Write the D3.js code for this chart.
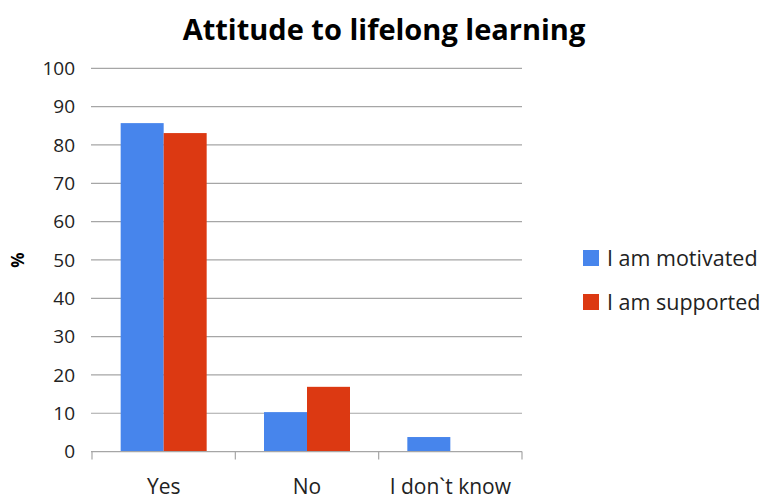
<!DOCTYPE html>
<html><head><meta charset="utf-8">
<script src="https://cdn.jsdelivr.net/npm/d3@7"></script>
<style>body{margin:0;background:#fff;}svg{display:block;font-family:"Open Sans",sans-serif;}</style>
</head><body><svg id="c" width="763" height="500"></svg>
<script>
const categories = ["Yes", "No", "I don`t know"];
const seriesNames = ["I am motivated", "I am supported"];
const motivated = [85.7, 10.3, 3.8];
const supported = [83.1, 16.9, 0];
const yTicks = [0,10,20,30,40,50,60,70,80,90,100];
const colors = ["#4785EC", "#DC3912"];

const svg = d3.select("#c");
const pLeft = 92, pRight = 522, pTop = 68.3, pBottom = 451.6;
const x = d3.scaleBand().domain(categories).range([pLeft, pRight]).paddingInner(0.4).paddingOuter(0.2);
const xs = d3.scaleBand().domain(seriesNames).range([0, x.bandwidth()]);
const y = d3.scaleLinear().domain([0,100]).range([pBottom, pTop]);

// gridlines
svg.append("g").selectAll("line").data(yTicks.filter(d=>d>0)).join("line")
  .attr("x1", pLeft-1).attr("x2", pRight).attr("y1", d=>y(d)).attr("y2", d=>y(d))
  .attr("stroke", "#a6a6a6").attr("stroke-width", 1.2);

// y labels
svg.append("g").selectAll("text").data(yTicks).join("text")
  .attr("x", 75).attr("y", d=>y(d)).attr("dy", "0.36em").attr("text-anchor","end")
  .attr("font-size", 19).attr("fill", "#222").text(d=>d);

// bars
const series = [motivated, supported];
series.forEach((vals, si) => {
  svg.append("g").selectAll("rect").data(vals).join("rect")
    .attr("x", (d,i)=>x(categories[i]) + xs(seriesNames[si]))
    .attr("width", xs.bandwidth())
    .attr("y", d=>y(d)).attr("height", d=>y(0)-y(d))
    .attr("fill", colors[si]);
});

// x axis
const xAxisG = svg.append("g");
xAxisG.append("line").attr("x1", pLeft-1).attr("x2", pRight).attr("y1", y(0)).attr("y2", y(0)).attr("stroke","#a6a6a6").attr("stroke-width",1.2);
const bounds = d3.range(categories.length+1).map(i=>pLeft + i*(pRight-pLeft)/categories.length);
xAxisG.selectAll("line.t").data(bounds).join("line").attr("class","t")
  .attr("x1", d=>d).attr("x2", d=>d).attr("y1", y(0)).attr("y2", y(0)+8)
  .attr("stroke","#a6a6a6").attr("stroke-width",1.2);
xAxisG.selectAll("text").data(categories).join("text")
  .attr("x", d=>x(d)+x.bandwidth()/2).attr("y", 494).attr("text-anchor","middle")
  .attr("font-size", 21).attr("fill","#222").text(d=>d);

// title
svg.append("text").attr("x", 384).attr("y", 40).attr("text-anchor","middle")
  .attr("font-size", 29).attr("font-weight","bold").attr("fill","#000").text("Attitude to lifelong learning");

// y axis title
svg.append("text").attr("transform","translate(24,260) rotate(-90)").attr("text-anchor","middle")
  .attr("font-size", 17).attr("font-weight","bold").attr("fill","#000").text("%");

// legend
const lg = svg.append("g");
seriesNames.forEach((n,i)=>{
  const ly = 258 + i*44;
  lg.append("rect").attr("x",583).attr("y",ly-8).attr("width",16).attr("height",16).attr("fill",colors[i]);
  lg.append("text").attr("x",607).attr("y",ly).attr("dy","0.36em").attr("font-size",21.5).attr("fill","#222").text(n);
});
</script></body></html>
